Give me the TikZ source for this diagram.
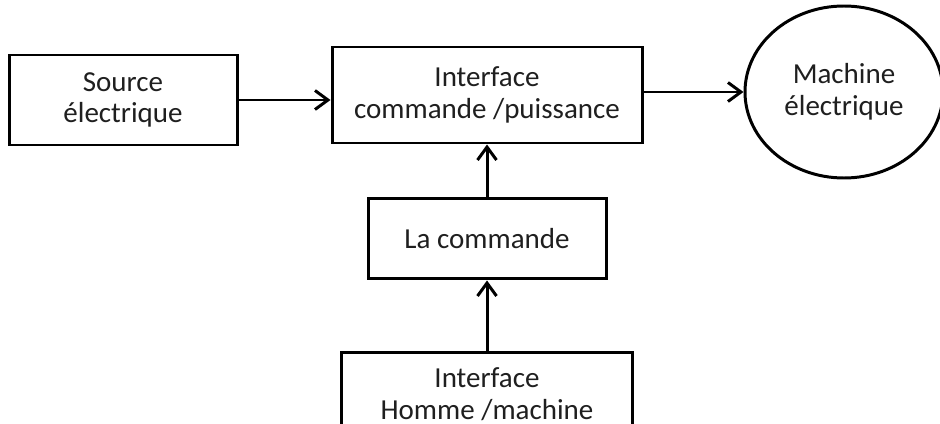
\documentclass[tikz,border=0pt]{standalone}
\usepackage{fontspec}
\setmainfont{Carlito}
\usetikzlibrary{positioning, arrows.meta, shapes.geometric}

\begin{document}
\begin{tikzpicture}[
  every node/.style={font=\fontsize{16.5pt}{18pt}\selectfont, text=black!88},
  bloc/.style={
    rectangle, draw=black, line width=1.7pt,
    align=center, fill=white, inner sep=0pt
  },
  machine/.style={
    ellipse, draw=black, line width=1.7pt,
    minimum width=3.96cm, minimum height=3.44cm,
    align=center, inner sep=0pt
  },
  fleche/.style={-{Straight Barb[length=2.6mm, width=3.8mm]}, line width=1.7pt}
]
  \useasboundingbox (0,0) rectangle (18.8,-8.46);

  % --- Bloc central ---
  \node[bloc, minimum width=6.2cm, minimum height=1.92cm] (iface) at (9.74,-1.9)
    {Interface\\commande /puissance};

  % --- Source a gauche, machine a droite ---
  \node[bloc, minimum width=4.56cm, minimum height=1.8cm,
        left=1.84cm of iface, yshift=-0.1cm] (source) {Source\\électrique};
  \node[machine, right=2cm of iface, yshift=0.06cm] (mach) {Machine\\électrique};

  % --- Chaine de commande ---
  \node[bloc, minimum width=4.76cm, minimum height=1.6cm,
        below=1.06cm of iface] (cmd) {La commande};
  \node[bloc, minimum width=5.82cm, minimum height=1.64cm,
        below=1.42cm of cmd] (ihm) {Interface\\Homme /machine};

  % --- Fleches ---
  \draw[fleche] (source.east) -- (source.east -| iface.west);
  \draw[fleche] (iface.east |- mach.west) -- (mach.west);
  \draw[fleche] (cmd.north) -- (iface.south);
  \draw[fleche] (ihm.north) -- (cmd.south);
\end{tikzpicture}
\end{document}
